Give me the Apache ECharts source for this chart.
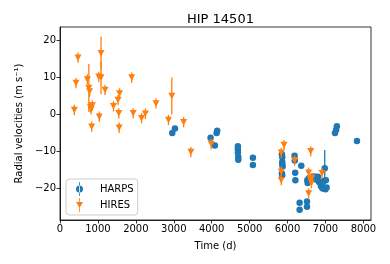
<!DOCTYPE html>
<html><head><meta charset="utf-8">
<script src="https://cdn.jsdelivr.net/npm/echarts@6/dist/echarts.min.js"></script>
<style>html,body{margin:0;padding:0;background:#fff}#c{width:390px;height:264px}</style>
</head><body><div id="c"></div>
<script>
const harpsT   = [2960,3030,3970,4084,4130,4145,4690,4690,4690,4700,4700,5086,5086,5850,5860,5860,5860,5870,5850,5860,6185,6190,6200,6205,6362,6318,6318,6512,6512,6520,6530,6560,6620,6650,6700,6732,6750,6800,6830,6880,6900,6950,6980,6960,7000,7010,7030,6920,7250,7280,7300,7830];
const harpsRV  = [-5.0,-3.8,-6.3,-8.4,-5.0,-4.4,-8.6,-9.5,-10.4,-11.5,-12.3,-11.7,-13.7,-10.8,-11.6,-12.9,-13.5,-14.1,-16.0,-16.5,-11.2,-12.5,-15.8,-17.8,-13.9,-23.9,-25.8,-23.6,-25.0,-17.8,-18.6,-17.3,-17.5,-16.9,-16.9,-16.9,-17.6,-16.9,-18.3,-19.4,-19.6,-18.0,-14.6,-20.1,-20.3,-17.8,-19.8,-20.0,-5.0,-4.2,-3.2,-7.2];
const harpsErr = [0.6,0.6,0.6,0.6,0.6,0.6,0.6,0.6,0.6,0.6,0.6,0.6,0.6,0.6,0.6,0.6,0.6,0.6,0.6,0.6,0.6,0.6,0.6,0.6,0.6,0.6,0.6,0.6,0.6,0.6,0.6,0.6,0.6,0.6,0.6,0.6,0.6,0.6,0.6,0.6,0.6,0.6,5.0,0.6,0.6,0.6,0.6,0.6,0.6,0.6,0.6,0.6];

const hiresT   = [378,422,475,721,760,780,800,820,836,853,1021,1035,1082,1082,1188,1410,1530,1550,1570,1560,1890,1930,2150,2250,2530,2860,2948,3260,3450,3986,5834,5907,5834,5834,6185,6610,6555,6600,6630,6645,6555,6908];
const hiresRV  = [1.2,8.5,15.4,9.5,7.2,6.2,2.0,1.4,-3.3,2.4,10.2,-0.6,16.6,10.0,6.6,2.2,3.9,0.3,5.7,-3.6,10.0,0.3,-1.0,0.2,3.0,-1.5,5.0,-2.1,-10.2,-8.0,-10.4,-8.3,-15.5,-17.8,-12.5,-10.0,-15.8,-17.6,-18.6,-17.2,-21.4,-15.9];
const hiresErr = [1.4,1.4,1.4,1.4,6.5,1.4,1.4,1.4,1.4,1.4,1.4,1.4,4.5,4.5,1.4,1.4,1.4,1.4,1.4,1.4,1.4,1.4,1.4,1.4,1.4,1.4,5.0,1.4,1.4,1.4,1.4,1.4,1.4,1.4,1.4,1.4,1.4,1.4,1.4,1.4,1.4,1.4];

const xTicks = [0,1000,2000,3000,4000,5000,6000,7000,8000];
const yTicks = [-20,-10,0,10,20];
const titleText = 'HIP 14501';
const xName = 'Time (d)';
const yName = 'Radial velocities (m s\u207B\u00B9)';

const BLUE = '#1f77b4', ORANGE = '#ff7f0e';
const FONT = 'DejaVu Sans';

function errData(t, v, e){ return t.map((x,i)=>[x, v[i]-e[i], v[i]+e[i]]); }
function errRender(color){
  return function(params, api){
    const p1 = api.coord([api.value(0), api.value(1)]);
    const p2 = api.coord([api.value(0), api.value(2)]);
    return {type:'line', shape:{x1:p1[0],y1:p1[1],x2:p2[0],y2:p2[1]}, style:{stroke:color, lineWidth:1.3}};
  };
}

const chart = echarts.init(document.getElementById('c'), null, {renderer:'canvas'});
const fmtMinus = v => String(v).replace('-', '\u2212');
chart.setOption({
  animation:false,
  textStyle:{fontFamily:FONT},
  title:{text:titleText, left:182, top:8, textStyle:{fontFamily:FONT, fontSize:13, fontWeight:'normal', color:'#000'}},
  grid:{left:60, right:19, top:27, bottom:44, show:true, borderColor:'#000', borderWidth:0.8, backgroundColor:'transparent'},
  legend:{
    orient:'vertical', left:66, top:179, selectedMode:false,
    backgroundColor:'#fff', borderColor:'#ccc', borderWidth:1, borderRadius:3,
    padding:[3,4,3,10], itemGap:2, itemWidth:7, itemHeight:14,
    textStyle:{fontFamily:FONT, fontSize:10, color:'#000', padding:[0,0,0,12]},
    data:[
      {name:'HARPS', icon:'path://M4.6,0L5.4,0L5.4,14L4.6,14Z M1.5,7A3.5,3.5 0 1,0 8.5,7A3.5,3.5 0 1,0 1.5,7Z', itemStyle:{color:BLUE}},
      {name:'HIRES', icon:'path://M4.6,0L5.4,0L5.4,14L4.6,14Z M1.5,4L8.5,4L5,10Z', itemStyle:{color:ORANGE}}
    ]
  },
  xAxis:{
    type:'value', min:0, max:8200,
    name:xName, nameLocation:'middle', nameGap:21,
    nameTextStyle:{fontFamily:FONT, fontSize:10, color:'#000'},
    axisLine:{show:true, onZero:false, lineStyle:{color:'#000', width:0.8}},
    axisTick:{show:true, customValues:xTicks, length:3.5, lineStyle:{color:'#000', width:0.8}},
    axisLabel:{customValues:xTicks, fontFamily:FONT, fontSize:10, color:'#000', margin:4, formatter:fmtMinus},
    splitLine:{show:false}
  },
  yAxis:{
    type:'value', min:-28.6, max:23.7,
    name:yName, nameLocation:'middle', nameGap:29,
    nameTextStyle:{fontFamily:FONT, fontSize:10, color:'#000'},
    axisLine:{show:true, onZero:false, lineStyle:{color:'#000', width:0.8}},
    axisTick:{show:true, customValues:yTicks, length:3.5, lineStyle:{color:'#000', width:0.8}},
    axisLabel:{customValues:yTicks, fontFamily:FONT, fontSize:10, color:'#000', margin:4, formatter:fmtMinus},
    splitLine:{show:false}
  },
  series:[
    {name:'HARPS', type:'custom', renderItem:errRender(BLUE), data:errData(harpsT,harpsRV,harpsErr), z:2, silent:true, encode:{x:0,y:[1,2]}},
    {name:'HARPS', type:'scatter', data:harpsT.map((x,i)=>[x,harpsRV[i]]), symbol:'circle', symbolSize:6.5, itemStyle:{color:BLUE, opacity:1}, z:3},
    {name:'HIRES', type:'custom', renderItem:errRender(ORANGE), data:errData(hiresT,hiresRV,hiresErr), z:4, silent:true, encode:{x:0,y:[1,2]}},
    {name:'HIRES', type:'scatter', data:hiresT.map((x,i)=>[x,hiresRV[i]]), symbol:'triangle', symbolRotate:180, symbolSize:[7,6.5], itemStyle:{color:ORANGE, opacity:1}, z:5}
  ]
});
</script></body></html>
